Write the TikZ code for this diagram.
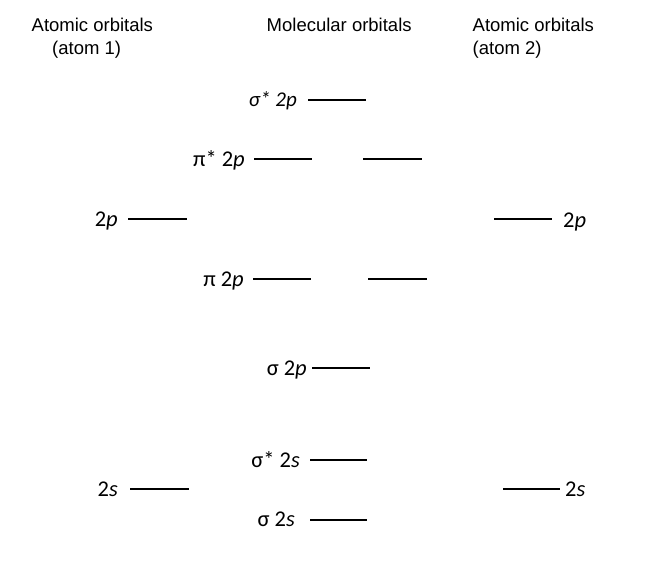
\documentclass[tikz,border=0pt]{standalone}
\usepackage{fontspec}
\setmainfont{Carlito}
\newfontfamily\hdrfont{Liberation Sans}
\begin{document}
\begin{tikzpicture}[x=1pt,y=-1pt,
  hdr/.style={font=\hdrfont\fontsize{18.5}{22}\selectfont, inner sep=0pt},
  lbl/.style={font=\fontsize{22.5}{26}\selectfont, inner sep=0pt},
  slbl/.style={font=\itshape\fontsize{21}{24}\selectfont, inner sep=0pt},
  level/.style={line width=1.8pt, black}]
\useasboundingbox (0,0) rectangle (654,570);
% headers
\node[hdr, anchor=base west] (h1a) at (31.5,31.5) {Atomic orbitals};
\node[hdr, anchor=base west] (h1b) at (52,54.5) {(atom 1)};
\node[hdr, anchor=base west] (h2) at (266.5,31.5) {Molecular orbitals};
\node[hdr, anchor=base west] (h3a) at (472.5,31.5) {Atomic orbitals};
\node[hdr, anchor=base west] (h3b) at (472.5,54.5) {(atom 2)};
% levels
\coordinate (sp2a) at (308,100);  \coordinate (sp2b) at (366,100);
\coordinate (pp1a) at (254,159);   \coordinate (pp1b) at (312,159);
\coordinate (pp2a) at (363,159);   \coordinate (pp2b) at (422,159);
\coordinate (l2pa) at (128,219); \coordinate (l2pb) at (187,219);
\coordinate (r2pa) at (494,219);   \coordinate (r2pb) at (552,219);
\coordinate (p1a) at (253,279);    \coordinate (p1b) at (311,279);
\coordinate (p2a) at (368,279);    \coordinate (p2b) at (427,279);
\coordinate (s2pa) at (312,368); \coordinate (s2pb) at (370,368);
\coordinate (ss2a) at (310,460);   \coordinate (ss2b) at (367,460);
\coordinate (l2sa) at (130,489);   \coordinate (l2sb) at (189,489);
\coordinate (r2sa) at (503,489);   \coordinate (r2sb) at (560,489);
\coordinate (s2sa) at (310,520);   \coordinate (s2sb) at (367,520);
\foreach \a/\b in {sp2a/sp2b,pp1a/pp1b,pp2a/pp2b,l2pa/l2pb,r2pa/r2pb,p1a/p1b,p2a/p2b,s2pa/s2pb,ss2a/ss2b,l2sa/l2sb,r2sa/r2sb,s2sa/s2sb}
  \draw[level] (\a) -- (\b);
% labels
\node[slbl, anchor=base east] (tsp2) at (297,106) {σ* 2p};
\node[lbl, anchor=base east] (tpp) at (245,166.5) {π* 2\textit{p}};
\node[lbl, anchor=base east] (tl2p) at (118,226.5) {2\textit{p}};
\node[lbl, anchor=base west] (tr2p) at (563,227) {2\textit{p}};
\node[lbl, anchor=base east] (tp) at (244,286.5) {π 2\textit{p}};
\node[lbl, anchor=base east] (ts2p) at (307,375.5) {σ 2\textit{p}};
\node[lbl, anchor=base east] (tss2) at (300,467) {σ* 2\textit{s}};
\node[lbl, anchor=base east] (tl2s) at (118,496) {2\textit{s}};
\node[lbl, anchor=base west] (tr2s) at (565,496) {2\textit{s}};
\node[lbl, anchor=base east] (ts2s) at (295,526.5) {σ 2\textit{s}};
\end{tikzpicture}
\end{document}
